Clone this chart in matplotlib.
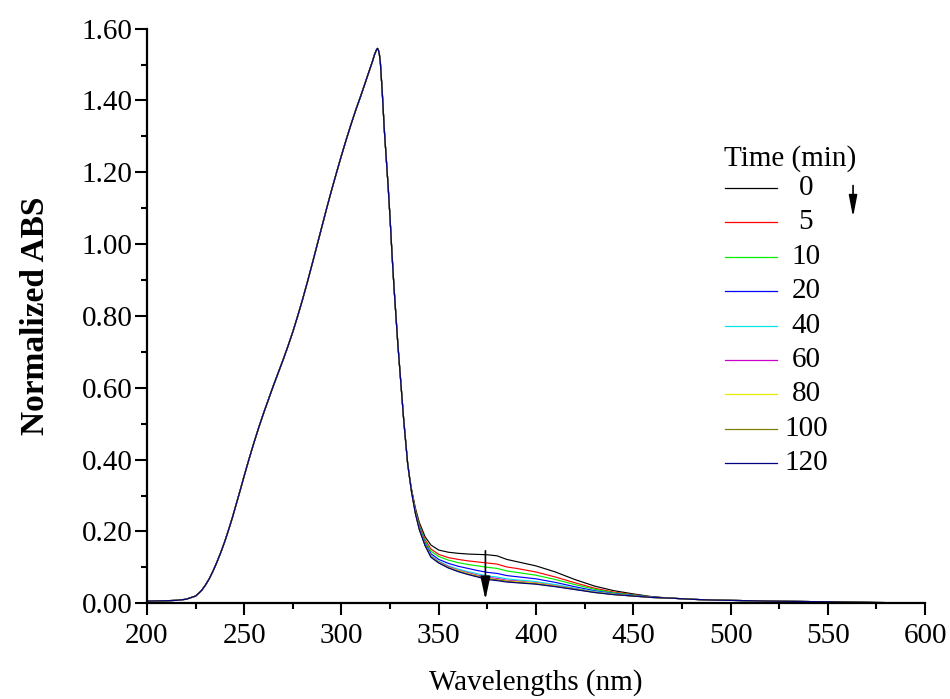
import matplotlib
matplotlib.use("Agg")
import matplotlib.pyplot as plt
from matplotlib.ticker import MultipleLocator, FormatStrFormatter
from matplotlib.lines import Line2D

plt.rcParams['font.family'] = ['Liberation Serif', 'DejaVu Serif']

# ---- data ----
times = ["0", "5", "10", "20", "40", "60", "80", "100", "120"]
colors = ["#000000", "#ff0000", "#00ee00", "#0000ff", "#00e5e5",
          "#cc00cc", "#e8e800", "#808000", "#000080"]

# shared part of the spectrum (all curves overlap here)
wl_uv = [200, 210, 215, 220, 225, 228, 230, 232, 234, 236, 238, 240, 242, 244,
         246, 248, 250, 252.5, 255, 257.5, 260, 262.5, 265, 267.5, 270, 272.5,
         275, 277.5, 280, 282.5, 285, 287.5, 290, 292.5, 295, 297.5, 300, 302.5,
         305, 307.5, 310, 312, 314, 316, 317, 318, 318.5, 319, 319.5, 320, 321,
         322, 323, 324, 325, 326, 327, 328, 329, 330, 331, 332, 333, 334, 335]
abs_uv = [0.006, 0.007, 0.008, 0.011, 0.020, 0.035, 0.050, 0.068, 0.090, 0.115,
          0.142, 0.172, 0.205, 0.240, 0.278, 0.316, 0.355, 0.402, 0.447, 0.490,
          0.530, 0.568, 0.606, 0.642, 0.678, 0.716, 0.756, 0.800, 0.846, 0.895,
          0.946, 0.998, 1.050, 1.102, 1.152, 1.200, 1.247, 1.292, 1.335, 1.376,
          1.414, 1.446, 1.478, 1.510, 1.528, 1.541, 1.545, 1.540, 1.528, 1.505,
          1.420, 1.320, 1.240, 1.160, 1.070, 0.970, 0.880, 0.800, 0.720, 0.650,
          0.580, 0.510, 0.450, 0.390, 0.350]

# region where the curves separate
wl_tail = [336, 338, 340, 343, 346, 350, 355, 360, 365, 370, 375, 380, 385,
           390, 395, 400, 410, 420, 430, 440, 450, 460]
tail_0 = [0.318, 0.265, 0.225, 0.185, 0.162, 0.148, 0.142, 0.139, 0.137, 0.136,
          0.135, 0.132, 0.122, 0.116, 0.110, 0.104, 0.087, 0.066, 0.048, 0.035,
          0.026, 0.018]
tail_5 = [0.317, 0.260, 0.218, 0.177, 0.151, 0.136, 0.127, 0.122, 0.118, 0.115,
          0.112, 0.109, 0.101, 0.097, 0.092, 0.087, 0.073, 0.057, 0.042, 0.031,
          0.024, 0.017]
tail_10 = [0.315, 0.257, 0.215, 0.172, 0.145, 0.130, 0.120, 0.113, 0.108, 0.104,
           0.100, 0.097, 0.090, 0.086, 0.082, 0.078, 0.066, 0.052, 0.039, 0.029,
           0.023, 0.017]
tail_20 = [0.313, 0.254, 0.211, 0.167, 0.138, 0.122, 0.111, 0.103, 0.097, 0.091,
           0.086, 0.083, 0.077, 0.074, 0.071, 0.068, 0.058, 0.046, 0.035, 0.027,
           0.022, 0.017]
tail_40 = [0.311, 0.252, 0.208, 0.164, 0.133, 0.117, 0.104, 0.095, 0.088, 0.082,
           0.076, 0.073, 0.068, 0.065, 0.063, 0.060, 0.052, 0.042, 0.033, 0.026,
           0.021, 0.016]
tail_60 = [0.311, 0.251, 0.207, 0.162, 0.131, 0.115, 0.102, 0.092, 0.085, 0.078,
           0.072, 0.069, 0.064, 0.062, 0.059, 0.057, 0.049, 0.040, 0.031, 0.025,
           0.020, 0.016]
tail_80 = [0.310, 0.251, 0.206, 0.161, 0.130, 0.114, 0.100, 0.091, 0.083, 0.076,
           0.069, 0.066, 0.062, 0.060, 0.058, 0.056, 0.048, 0.039, 0.031, 0.025,
           0.020, 0.016]
tail_100 = [0.310, 0.250, 0.206, 0.161, 0.129, 0.113, 0.099, 0.089, 0.081, 0.075,
            0.068, 0.065, 0.061, 0.058, 0.056, 0.054, 0.047, 0.039, 0.030, 0.024,
            0.020, 0.016]
tail_120 = [0.310, 0.250, 0.205, 0.160, 0.128, 0.112, 0.098, 0.088, 0.080, 0.073,
            0.066, 0.063, 0.059, 0.057, 0.055, 0.053, 0.046, 0.038, 0.030, 0.024,
            0.020, 0.016]

# shared visible part
wl_vis = [470, 480, 490, 500, 520, 550, 575, 600]
abs_vis = [0.014, 0.011, 0.009, 0.008, 0.006, 0.004, 0.002, 0.001]

tails = [tail_0, tail_5, tail_10, tail_20, tail_40, tail_60, tail_80, tail_100, tail_120]

# ---- figure ----
fig = plt.figure(figsize=(9.5, 6.99), dpi=100)
ax = fig.add_axes([0.1547, 0.137, 0.8190, 0.822])

wl_all = wl_uv + wl_tail + wl_vis
for t, c, tail in zip(times, colors, tails):
    ax.plot(wl_all, abs_uv + tail + abs_vis, color=c, lw=0.85)

ax.set_xlim(200, 600)
ax.set_ylim(0, 1.6)
ax.xaxis.set_major_locator(MultipleLocator(50))
ax.xaxis.set_minor_locator(MultipleLocator(25))
ax.yaxis.set_major_locator(MultipleLocator(0.2))
ax.yaxis.set_minor_locator(MultipleLocator(0.1))
ax.yaxis.set_major_formatter(FormatStrFormatter('%.2f'))

for s in ['top', 'right']:
    ax.spines[s].set_visible(False)
for s in ['left', 'bottom']:
    ax.spines[s].set_linewidth(1.6)
ax.tick_params(which='major', direction='out', length=8.5, width=1.5,
               labelsize=21)
ax.tick_params(axis='x', which='major', pad=6)
ax.tick_params(axis='y', which='major', pad=2)
ax.tick_params(which='minor', direction='out', length=4.5, width=1.5)

ax.set_xlabel("Wavelengths (nm)", fontsize=21, labelpad=14)
ax.set_ylabel("Normalized ABS", fontsize=24, fontweight='bold', labelpad=22)

# legend drawn by hand (centred labels as in the reference)
ax.text(0.8265, 0.7748, "Time (min)", transform=ax.transAxes, fontsize=21,
        ha='center', va='center')
y0 = 0.7226
dy = 34.4 / 574.6
for i, (t, c) in enumerate(zip(times, colors)):
    yy = y0 - i * dy
    ax.add_line(Line2D([0.743, 0.810], [yy, yy], transform=ax.transAxes,
                       color=c, lw=0.9))
    ax.text(0.847, yy, t, transform=ax.transAxes, fontsize=21,
            ha='center', va='center')

# arrows
ax.annotate("", xy=(0.9075, 0.672), xytext=(0.9075, 0.727),
            xycoords='axes fraction',
            arrowprops=dict(arrowstyle='-|>,head_length=1.3,head_width=0.25',
                            color='black', lw=1.2, shrinkA=0, shrinkB=0))
ax.annotate("", xy=(374, 0.010), xytext=(374, 0.146),
            arrowprops=dict(arrowstyle='-|>,head_length=1.4,head_width=0.3',
                            color='black', lw=1.2, shrinkA=0, shrinkB=0))

fig.savefig("out.png", dpi=100)
